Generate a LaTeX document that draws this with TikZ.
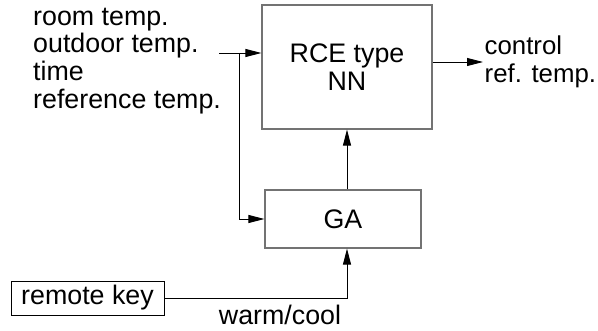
\documentclass[tikz,border=0pt]{standalone}
\usepackage{fontspec}
\setmainfont{Liberation Sans}
\usetikzlibrary{arrows.meta}
\tikzset{
	block/.style={draw=black!55, line width=1.2pt, inner sep=0pt, align=center},
	flow/.style={-{Triangle[length=16pt,width=8pt]}, line width=0.9pt},
}
\begin{document}
\fontsize{26.8}{27.7}\selectfont
\begin{tikzpicture}[x=1pt, y=-1pt]
		\useasboundingbox (0,0) rectangle (598,331);
		\node [block, minimum width=170pt, minimum height=124pt] (rce) at (347,67) {RCE type\\NN};
		\node [block, minimum width=156pt, minimum height=58pt] (ga) at (343,219) {GA};
		\node [block, draw=black, line width=0.9pt, minimum width=153pt, minimum height=34pt] (key) at (87.5,298) {remote key};
		\node [anchor=north west, inner sep=0pt, align=left] (inputs) at (33,7.5) {room temp.\\outdoor temp.\\time\\reference temp.};
		\coordinate (in) at (219,53);
		\coordinate (split) at (239,53);
		\coordinate (out) at (483,62);
		\node [anchor=west, inner sep=0pt, xshift=1.5pt, align=left, font=\fontsize{25.8}{27.7}\selectfont] (output) at (out) {control\\ref. temp.};
		\draw [flow] (in) -- (in -| rce.west);
		\draw [flow] (split) |- (ga.west);
		\draw [flow] (rce.south |- ga.north) -- (rce.south);
		\draw [flow] (rce.east |- out) -- (out);
		\draw [flow] (key.east) -| (rce.south |- ga.south);
		\node (mode) at (280,315) {warm/cool};
	\end{tikzpicture}
\end{document}
